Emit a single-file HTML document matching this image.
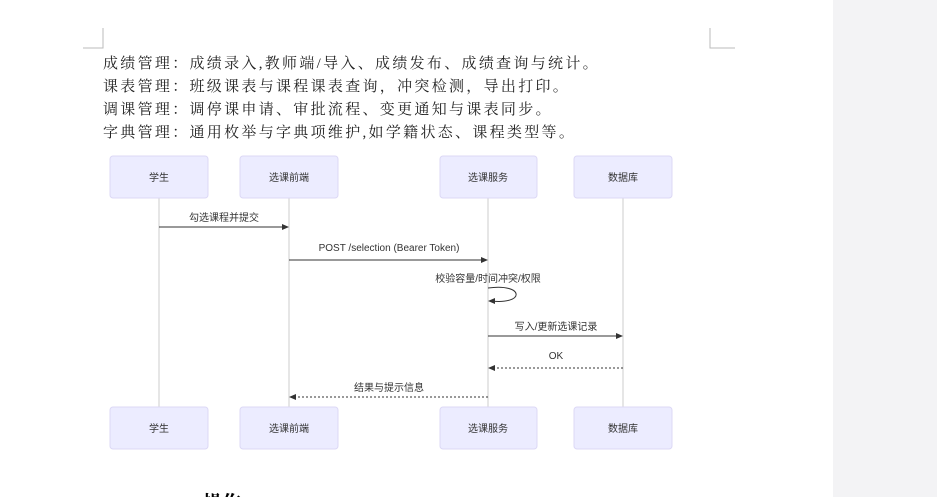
<!DOCTYPE html>
<html style="height:497px;overflow:hidden"><head><meta charset="utf-8"><style>
html,body{margin:0;width:937px;height:497px;overflow:hidden}
body{background:#fff;position:relative;font-family:"Liberation Sans","Noto Sans CJK SC",sans-serif}
.side{position:absolute;left:833px;top:0;width:104px;height:497px;background:#f3f3f5}
.t{position:absolute;left:103px;font-family:"Liberation Serif","Noto Serif CJK SC",serif;font-size:15px;letter-spacing:2.3px;color:#222;white-space:nowrap}
</style></head><body>
<div class="side"></div>
<svg width="937" height="497" style="position:absolute;left:0;top:0">
<path d="M103 28V48H83" fill="none" stroke="#bbb"/>
<path d="M710 28V48H735" fill="none" stroke="#bbb"/>
<g stroke="#ccc"><line x1="159" y1="198" x2="159" y2="407"/><line x1="289" y1="198" x2="289" y2="407"/><line x1="488" y1="198" x2="488" y2="407"/><line x1="623" y1="198" x2="623" y2="407"/></g>
<g fill="#ececff" stroke="#dcd8f5">
<rect x="110" y="156" width="98" height="42" rx="3"/><rect x="240" y="156" width="98" height="42" rx="3"/><rect x="440" y="156" width="97" height="42" rx="3"/><rect x="574" y="156" width="98" height="42" rx="3"/>
<rect x="110" y="407" width="98" height="42" rx="3"/><rect x="240" y="407" width="98" height="42" rx="3"/><rect x="440" y="407" width="97" height="42" rx="3"/><rect x="574" y="407" width="98" height="42" rx="3"/>
</g>
<g font-size="10" fill="#333" text-anchor="middle" font-family="Liberation Sans,Noto Sans CJK SC,sans-serif">
<text x="159" y="181">学生</text><text x="289" y="181">选课前端</text><text x="488" y="181">选课服务</text><text x="623" y="181">数据库</text>
<text x="159" y="432">学生</text><text x="289" y="432">选课前端</text><text x="488" y="432">选课服务</text><text x="623" y="432">数据库</text>
<text x="224" y="221">勾选课程并提交</text>
<text x="389" y="251">POST /selection (Bearer Token)</text>
<text x="488" y="282">校验容量/时间冲突/权限</text>
<text x="556" y="330">写入/更新选课记录</text>
<text x="556" y="359">OK</text>
<text x="389" y="391">结果与提示信息</text>
</g>
<g stroke="#333" fill="none">
<line x1="159" y1="227" x2="286" y2="227"/>
<line x1="289" y1="260" x2="485" y2="260"/>
<path d="M488 288C525 283 525 305 491 301"/>
<line x1="488" y1="336" x2="620" y2="336"/>
<line x1="623" y1="368" x2="491" y2="368" stroke-dasharray="2,2"/>
<line x1="488" y1="397" x2="292" y2="397" stroke-dasharray="2,2"/>
</g>
<g fill="#333">
<path d="M289 227l-7-3v6z"/><path d="M488 260l-7-3v6z"/><path d="M488 301l7-3v6z"/>
<path d="M623 336l-7-3v6z"/><path d="M488 368l7-3v6z"/><path d="M289 397l7-3v6z"/>
</g>
</svg>
<div class="t" style="top:52px">成绩管理：成绩录入,教师端/导入、成绩发布、成绩查询与统计。</div>
<div class="t" style="top:75px">课表管理：班级课表与课程课表查询，冲突检测，导出打印。</div>
<div class="t" style="top:98px">调课管理：调停课申请、审批流程、变更通知与课表同步。</div>
<div class="t" style="top:121px">字典管理：通用枚举与字典项维护,如学籍状态、课程类型等。</div>
<div style="position:absolute;left:118px;top:490px;font-size:18px;font-weight:bold;font-family:'Liberation Serif','Noto Serif CJK SC',serif">·</div>
<div style="position:absolute;left:203px;top:488px;font-size:19px;font-weight:bold;font-family:'Liberation Serif','Noto Serif CJK SC',serif">操作</div>
</body></html>
